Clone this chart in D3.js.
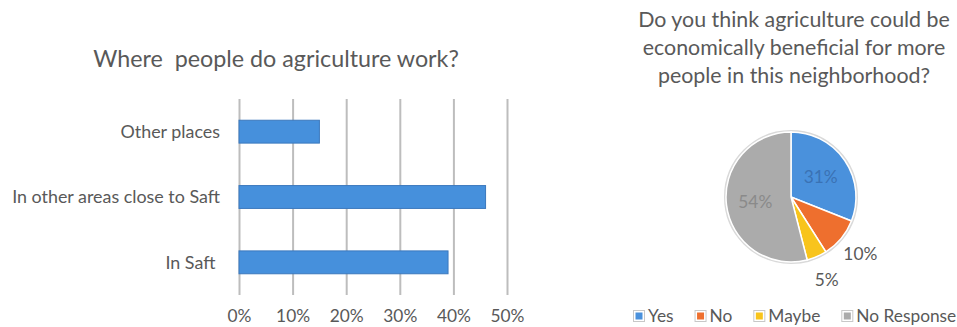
<!DOCTYPE html>
<html>
<head>
<meta charset="utf-8">
<script src="https://cdn.jsdelivr.net/npm/d3@7"></script>
<style>
  body { margin: 0; background: #ffffff; }
  svg text { font-family: Lato, "Open Sans", sans-serif; fill: #595959; white-space: pre; }
</style>
</head>
<body>
<svg id="main-chart-svg" width="957" height="327"></svg>
<script>
// bar chart data
const barCategories = ["Other places", "In other areas close to Saft", "In Saft "];
const barValues = [15, 46, 39];
const barTicks = [0, 10, 20, 30, 40, 50];

// pie chart data
const pieCategories = ["Yes", "No", "Maybe", "No Response"];
const pieValues = [31, 10, 5, 54];
const pieLabels = ["31%", "10%", "5%", "54%"];

const barColor = "#4690dc";
const pieColors = ["#4a91dc", "#ee6f2e", "#f8c41c", "#ababab"];

let svg = d3.select("#main-chart-svg");

// scale text so it covers a given width
function fitWidth(sel, target) {
    let w = sel.node().getComputedTextLength();
    let fs = parseFloat(sel.attr("font-size"));
    return fs * target / w;
}

/* ---------- bar chart ---------- */
let xScale = d3.scaleLinear()
    .domain([0, 50])
    .range([239, 507]);

let yScale = d3.scaleBand()
    .domain(barCategories)
    .range([99, 295])
    .paddingInner(0.65)
    .paddingOuter(0.325);

let title1 = svg.append("text")
    .attr("x", 276)
    .attr("y", 67)
    .attr("text-anchor", "middle")
    .attr("font-size", 20)
    .text("Where  people do agriculture work?");
title1.attr("font-size", fitWidth(title1, 366));

let xAxis = d3.axisBottom(xScale)
    .tickValues(barTicks)
    .tickFormat(d => d + "%")
    .tickSize(-(295 - 99));

let gx = svg.append("g")
    .attr("id", "xAxis")
    .attr("transform", "translate(0,295)")
    .call(xAxis);
gx.select(".domain").remove();
gx.selectAll("line").attr("stroke", "#bdbdbd").attr("stroke-width", 2);
gx.selectAll("text")
    .attr("y", 27)
    .attr("dy", null)
    .attr("fill", "#595959")
    .attr("font-size", 15);
let tickSize = fitWidth(gx.selectAll("text").filter(d => d === 10), 34);
gx.selectAll("text").attr("font-size", tickSize);

let yAxis = d3.axisLeft(yScale).tickSize(0).tickPadding(19);
let gy = svg.append("g")
    .attr("id", "yAxis")
    .attr("transform", "translate(239,0)")
    .call(yAxis);
gy.select(".domain").remove();
gy.selectAll("text").attr("fill", "#595959").attr("font-size", 15);
let catSize = fitWidth(gy.selectAll("text").filter(d => d === barCategories[1]), 208);
gy.selectAll("text").attr("font-size", catSize).attr("dy", "0.35em");

svg.append("g")
    .selectAll("rect")
    .data(barValues)
    .join("rect")
    .attr("x", xScale(0))
    .attr("y", (d, i) => yScale(barCategories[i]))
    .attr("width", d => xScale(d) - xScale(0))
    .attr("height", yScale.bandwidth())
    .attr("fill", barColor)
    .attr("stroke", "#3b78bd")
    .attr("stroke-width", 1);

/* ---------- pie chart ---------- */
let cx = 791, cy = 197, radius = 65;

let titleLines = ["Do you think agriculture could be",
                  "economically beneficial for more",
                  "people in this neighborhood?"];
let t2 = svg.append("g").selectAll("text")
    .data(titleLines)
    .join("text")
    .attr("x", 794)
    .attr("y", (d, i) => 27 + i * 28)
    .attr("text-anchor", "middle")
    .attr("font-size", 19)
    .text(d => d);
let pieTitleSize = fitWidth(t2.filter((d, i) => i === 0), 312);
t2.attr("font-size", pieTitleSize);

let pie = d3.pie().sort(null)(pieValues);
let arc = d3.arc().innerRadius(0).outerRadius(radius);
let inArc = d3.arc().innerRadius(36).outerRadius(36);
let outArc = d3.arc().innerRadius(90).outerRadius(90);

let gp = svg.append("g").attr("transform", `translate(${cx},${cy})`);
gp.append("circle")
    .attr("r", radius + 1)
    .attr("fill", "none")
    .attr("stroke", "#d9d9d9")
    .attr("stroke-width", 2);
gp.selectAll("path")
    .data(pie)
    .join("path")
    .attr("d", arc)
    .attr("fill", (d, i) => pieColors[i])
    .attr("stroke", "#ffffff")
    .attr("stroke-width", 1.5);

// big slices get the label inside, small ones outside
gp.selectAll("text")
    .data(pie)
    .join("text")
    .attr("transform", d => {
        let p = d.data >= 20 ? inArc.centroid(d) : outArc.centroid(d);
        return `translate(${p[0]},${p[1]})`;
    })
    .attr("dy", "0.35em")
    .attr("text-anchor", "middle")
    .attr("font-size", tickSize)
    .style("fill", (d, i) => i === 0 ? "#3a72b4" : (i === 3 ? "#8a8a8a" : "#595959"))
    .text((d, i) => pieLabels[i]);

// legend
let lg = svg.append("g").attr("transform", "translate(633,316)");
let probe = lg.append("text").attr("font-size", 16).text("No Response");
let legendSize = fitWidth(probe, 100);
probe.remove();
let lx = 0;
pieCategories.forEach((c, i) => {
    let item = lg.append("g").attr("transform", `translate(${lx},0)`);
    item.append("rect")
        .attr("x", 0.5).attr("y", -5.5)
        .attr("width", 11).attr("height", 11)
        .attr("fill", "#ffffff")
        .attr("stroke", "#c8c8c8");
    item.append("rect")
        .attr("x", 2.5).attr("y", -3.5)
        .attr("width", 7).attr("height", 7)
        .attr("fill", pieColors[i]);
    let t = item.append("text")
        .attr("x", 15)
        .attr("dy", "0.35em")
        .attr("font-size", legendSize)
        .text(c);
    lx += 15 + t.node().getComputedTextLength() + 21;
});
</script>
</body>
</html>
